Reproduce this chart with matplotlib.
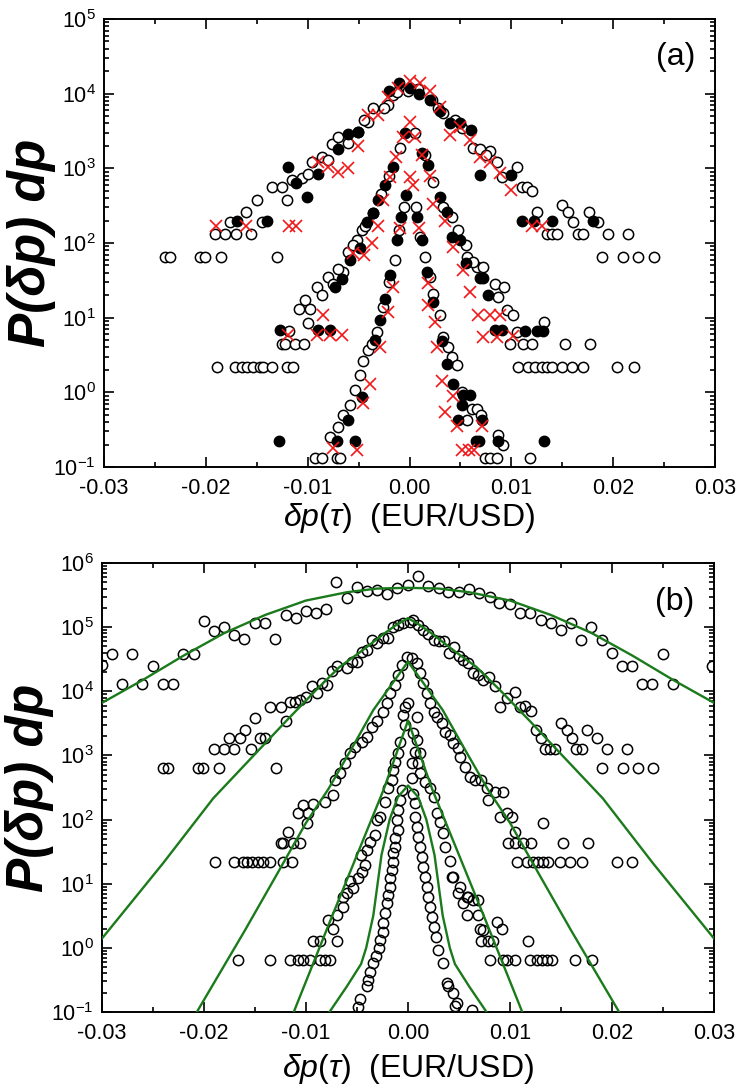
import matplotlib
matplotlib.use("Agg")
import matplotlib.pyplot as plt
from matplotlib.ticker import MultipleLocator, LogLocator, NullFormatter, FixedLocator, FixedFormatter

plt.rcParams['font.family'] = ['Liberation Sans', 'DejaVu Sans']
plt.rcParams['mathtext.fontset'] = 'custom'
plt.rcParams['mathtext.rm'] = 'Liberation Sans'
plt.rcParams['mathtext.it'] = 'Liberation Sans:italic'
plt.rcParams['mathtext.bf'] = 'Liberation Sans:bold'
plt.rcParams['axes.unicode_minus'] = False

# ---------------- Panel (a) data ----------------
a_open_x = [-0.0240, -0.0235, -0.0206, -0.0201, -0.0185, -0.0130,
            -0.0191, -0.0181, -0.0170, -0.0156, -0.0176, -0.0161, -0.0145, -0.0150, -0.0135, -0.0125,
            -0.0120, -0.0115, -0.0106, -0.0100, -0.0096, -0.0086, -0.0080, -0.0076, -0.0070, -0.0060,
            -0.0051, -0.0041, -0.0036, -0.0021, -0.0016, -0.0001, -0.0045, -0.0025, -0.0012,
            0.0008, 0.0022, 0.0033, 0.0045, 0.0062, 0.0069, 0.0079, 0.0086, 0.0091, 0.0106, 0.0110,
            0.0115, 0.0120, 0.0125, 0.0150, 0.0156, 0.0161, 0.0176, 0.0185, 0.0135, 0.0140, 0.0145,
            0.0165, 0.0170, 0.0195, 0.0215, 0.0189, 0.0210, 0.0224, 0.0240, 0.0028, 0.0052, 0.0075,
            # middle
            -0.0009, -0.0036, -0.0047, -0.0052, -0.0060, -0.0065, -0.0080, -0.0091, -0.0086, -0.0103,
            -0.0109, -0.0098, -0.0100, -0.0118, -0.0125, -0.0122, -0.0112, -0.0104,
            -0.0189, -0.0171, -0.0164, -0.0160, -0.0154, -0.0147, -0.0144, -0.0135, -0.0120, -0.0114,
            -0.0020, -0.0028, -0.0044, -0.0055, -0.0070, -0.0075,
            0.0005, 0.0023, 0.0042, 0.0055, 0.0056, 0.0066, 0.0072, 0.0084, 0.0093, 0.0087, 0.0096,
            0.0102, 0.0106, 0.0132, 0.0099, 0.0111, 0.0120, 0.0153, 0.0177,
            0.0107, 0.0116, 0.0123, 0.0130, 0.0135, 0.0140, 0.0150, 0.0160, 0.0170, 0.0204, 0.0220,
            0.0015, 0.0033, 0.0048, 0.0062,
            # inner
            -0.0005, 0.0006, -0.0014, -0.0041, -0.0046, -0.0049, -0.0054, -0.0058, -0.0065, -0.0070,
            -0.0078, -0.0093, -0.0086, -0.0071, -0.0068, -0.0010, -0.0020, -0.0026, -0.0032, -0.0037,
            0.0015, 0.0023, 0.0030, 0.0033, 0.0038, 0.0042, 0.0047, 0.0061, 0.0066, 0.0056, 0.0087,
            0.0092, 0.0074, 0.0079, 0.0086, 0.0118, 0.0010, 0.0020, 0.0052, 0.0070]
a_open_y = [65, 65, 65, 65, 65, 65,
            130, 130, 130, 130, 190, 260, 190, 380, 560, 560,
            380, 690, 750, 850, 1200, 1400, 1300, 2100, 2600, 2200,
            3100, 4200, 6500, 7000, 9600, 11000, 4500, 6500, 10500,
            11500, 8300, 5500, 4500, 1900, 1800, 1700, 1200, 760, 1050, 560,
            560, 500, 260, 320, 260, 190, 260, 190, 130, 130, 130,
            130, 130, 130, 130, 65, 65, 65, 65, 6500, 3500, 1500,
            # middle
            1900, 250, 150, 110, 76, 41, 35, 26, 20, 17,
            13, 13, 8.6, 6.6, 4.4, 4.4, 4.4, 4.4,
            2.2, 2.2, 2.2, 2.2, 2.2, 2.2, 2.2, 2.2, 2.2, 2.2,
            800, 450, 170, 95, 45, 28,
            3000, 660, 220, 93, 65, 48, 48, 28, 26, 19, 12.6,
            11, 6.5, 8.7, 4.4, 4.4, 4.4, 4.4, 4.4,
            2.2, 2.2, 2.2, 2.2, 2.2, 2.2, 2.2, 2.2, 2.2, 2.2, 2.2,
            1500, 300, 150, 55,
            # inner
            300, 300, 59, 3.7, 2.6, 1.7, 1.07, 0.68, 0.50, 0.34,
            0.25, 0.13, 0.13, 0.13, 0.13, 150, 30, 14, 6.5, 4.5,
            65, 21, 11, 5.5, 4.0, 3.0, 2.3, 0.6, 0.6, 0.43, 0.27,
            0.20, 0.13, 0.13, 0.13, 0.13, 120, 35, 1.0, 0.5]

a_fill_x = [-0.0169, -0.0140, -0.0119, -0.0111, -0.0101, -0.0090, -0.0070, -0.0060, -0.0051,
            -0.0020, -0.0010, 0.0000, 0.0009, 0.0020, 0.0030, 0.0040, 0.0050, 0.0060, 0.0069,
            0.0100, 0.0110, 0.0122, 0.0140, 0.0180,
            -0.0004, -0.0016, -0.0024, -0.0031, -0.0036, -0.0042, -0.0049, -0.0058, -0.0066, -0.0073,
            -0.0127, -0.0090, -0.0078, 0.0012, 0.0018, 0.0030, 0.0037, 0.0042, 0.0050, 0.0055,
            0.0069, 0.0072, 0.0077, 0.0084, 0.0091, 0.0113, 0.0125, 0.0131,
            -0.0003, -0.0008, 0.0007, -0.0012, 0.0012, -0.0019, -0.0024, -0.0029, -0.0034, -0.0047,
            -0.0060, -0.0071, -0.0054, -0.0128, 0.0017, 0.0023, 0.0032, 0.0037, 0.0043, 0.0053,
            0.0059, 0.0052, 0.0048, 0.0071, 0.0065, 0.0068, 0.0087, 0.0132]
a_fill_y = [200, 200, 1050, 630, 410, 840, 1800, 2900, 3100,
            11000, 14000, 12000, 10000, 8300, 5800, 4100, 4100, 3300, 810,
            810, 200, 200, 200, 200,
            3000, 1050, 600, 380, 250, 190, 85, 59, 33, 26,
            6.9, 6.9, 6.9, 1600, 1100, 410, 260, 120, 110, 54,
            34, 34, 20, 6.9, 6.9, 6.6, 6.6, 6.6,
            440, 220, 220, 110, 110, 37, 18, 9.4, 5.0, 0.87,
            0.43, 0.22, 0.22, 0.22, 41, 16, 4.8, 2.4, 1.3, 0.93,
            0.93, 0.68, 0.43, 0.43, 0.22, 0.22, 0.22, 0.22]

a_cross_x = [-0.0190, -0.0161, -0.0118, -0.0111, -0.0090, -0.0080, -0.0070, -0.0060, -0.0051,
             -0.0041, -0.0031, -0.0021, -0.0011, 0.0000, 0.0010, 0.0020, 0.0030, 0.0040, 0.0050,
             0.0059, 0.0069, 0.0079, 0.0089, 0.0100, 0.0120, 0.0130,
             0.0000, -0.0006, -0.0013, -0.0019, -0.0026, -0.0031, -0.0037, -0.0045, -0.0055, -0.0085,
             -0.0091, -0.0078, -0.0066, -0.0119, 0.0005, 0.0012, 0.0020, 0.0023, 0.0035, 0.0043,
             0.0053, 0.0059, 0.0067, 0.0079, 0.0089, 0.0072, 0.0086, 0.0102,
             0.0000, 0.0003, -0.0009, 0.0009, -0.0016, -0.0021, -0.0029, -0.0039, -0.0046, -0.0075,
             -0.0052, 0.0018, 0.0018, 0.0025, 0.0027, 0.0032, 0.0043, 0.0035, 0.0047, 0.0071,
             0.0052, 0.0058, 0.0063]
a_cross_y = [170, 170, 170, 170, 1200, 1050, 900, 1000, 2000,
             5200, 5200, 9100, 12000, 15000, 14000, 11000, 6600, 2800, 3600,
             2400, 1400, 1200, 870, 520, 170, 170,
             4200, 2600, 1400, 760, 380, 170, 100, 70, 74, 11,
             5.9, 5.9, 5.9, 5.9, 2600, 1500, 800, 330, 200, 89,
             44, 22, 11, 11, 11, 5.5, 5.5, 5.6,
             760, 600, 160, 160, 26, 12, 4.1, 1.3, 0.72, 0.18,
             0.17, 29, 15, 8.7, 4.1, 1.4, 0.9, 0.54, 0.35, 0.35,
             0.17, 0.17, 0.17]

# ---------------- Panel (b) data ----------------
b1_x = [-0.0300, -0.0290, -0.0280, -0.0271, -0.0261, -0.0250, -0.0240, -0.0230, -0.0221, -0.0210,
        -0.0200, -0.0190, -0.0180, -0.0171, -0.0161, -0.0150, -0.0140, -0.0130, -0.0120, -0.0110,
        -0.0100, -0.0090, -0.0080, -0.0071, -0.0060, -0.0050, -0.0040, -0.0030, -0.0021, -0.0011,
        0.0000, 0.0010, 0.0020, 0.0030, 0.0039, 0.0050, 0.0060, 0.0070, 0.0080, 0.0089,
        0.0100, 0.0110, 0.0120, 0.0130, 0.0140, 0.0150, 0.0160, 0.0170, 0.0179, 0.0190,
        0.0200, 0.0210, 0.0220, 0.0229, 0.0239, 0.0250, 0.0260, 0.0298]
b1_y = [2.6e4, 3.8e4, 1.3e4, 3.8e4, 1.3e4, 2.5e4, 1.3e4, 1.3e4, 3.8e4, 3.8e4,
        1.25e5, 8.7e4, 1.0e5, 7.6e4, 6.5e4, 1.15e5, 1.15e5, 6.5e4, 1.55e5, 1.4e5,
        1.8e5, 1.65e5, 1.9e5, 5.0e5, 2.8e5, 4.2e5, 3.7e5, 3.8e5, 3.3e5, 4.1e5,
        4.5e5, 6.3e5, 4.4e5, 4.1e5, 3.5e5, 3.5e5, 3.9e5, 3.4e5, 2.9e5, 2.4e5,
        2.3e5, 1.65e5, 1.65e5, 1.3e5, 1.15e5, 8.9e4, 1.15e5, 6.3e4, 1.0e5, 6.3e4,
        4.0e4, 2.5e4, 2.5e4, 1.3e4, 1.3e4, 3.8e4, 1.3e4, 2.5e4]

b2_x = [-0.0240, -0.0235, -0.0206, -0.0201, -0.0185, -0.0129,
        -0.0190, -0.0180, -0.0171, -0.0175, -0.0165, -0.0160, -0.0154, -0.0145, -0.0140, -0.0150,
        -0.0135, -0.0125, -0.0120, -0.0116, -0.0111, -0.0106, -0.0100, -0.0094, -0.0089, -0.0084,
        -0.0079, -0.0075, -0.0070, -0.0060, -0.0055, -0.0050, -0.0045, -0.0040, -0.0035, -0.0030,
        -0.0025, -0.0020, -0.0015, -0.0010, -0.0005, 0.0002,
        0.0005, 0.0010, 0.0015, 0.0020, 0.0025, 0.0030, 0.0035, 0.0040, 0.0045, 0.0050, 0.0054,
        0.0059, 0.0064, 0.0069, 0.0074, 0.0079, 0.0085, 0.0090, 0.0097, 0.0105, 0.0110, 0.0115,
        0.0121, 0.0125, 0.0130, 0.0134, 0.0139, 0.0144, 0.0150, 0.0156, 0.0161, 0.0165, 0.0171,
        0.0175, 0.0185, 0.0195, 0.0215, 0.0190, 0.0211, 0.0225, 0.0240]
b2_y = [630, 630, 630, 630, 630, 630,
        1250, 1250, 1250, 1850, 1850, 2500, 1250, 1850, 1850, 3800,
        5600, 5600, 3500, 6800, 6800, 7200, 8100, 12000, 9300, 13500,
        12500, 21000, 25000, 23000, 29000, 29000, 41000, 44000, 63000, 56000,
        67000, 67000, 100000, 107000, 115000, 120000,
        130000, 107000, 89000, 79000, 63000, 60000, 60000, 40000, 49000, 36000, 31000,
        27500, 19000, 18000, 15000, 16500, 12000, 5600, 7800, 9800, 5600, 6000,
        5000, 2500, 1850, 1250, 1250, 1250, 3200, 2500, 1850, 1250, 1250,
        2500, 1850, 1250, 1250, 630, 630, 630, 630]

b3_x = [-0.0001, -0.0006, -0.0010, -0.0013, -0.0018, -0.0021, -0.0025, -0.0030, -0.0035, -0.0040,
        -0.0045, -0.0052, -0.0057, -0.0062, -0.0067, -0.0072, -0.0074, -0.0081, -0.0093, -0.0103,
        -0.0108, -0.0098, -0.0099, -0.0118, -0.0125, -0.0123, -0.0113, -0.0106,
        -0.0189, -0.0171, -0.0162, -0.0158, -0.0153, -0.0147, -0.0142, -0.0135, -0.0123, -0.0114,
        0.0004, 0.0009, 0.0012, 0.0015, 0.0019, 0.0022, 0.0025, 0.0028, 0.0033, 0.0036,
        0.0041, 0.0044, 0.0049, 0.0051, 0.0056, 0.0061, 0.0066, 0.0072, 0.0077, 0.0085,
        0.0093, 0.0078, 0.0090, 0.0097, 0.0102, 0.0105, 0.0098, 0.0105, 0.0113, 0.0121,
        0.0132, 0.0152, 0.0176,
        0.0107, 0.0117, 0.0123, 0.0127, 0.0132, 0.0137, 0.0149, 0.0159, 0.0171, 0.0205, 0.0220]
b3_y = [34000, 26000, 17800, 12600, 9300, 6600, 4800, 3500, 2750, 1950,
        1620, 1350, 1100, 760, 525, 410, 240, 186, 178, 166,
        126, 126, 87, 63, 43, 43, 43, 43,
        22, 22, 22, 22, 22, 22, 22, 22, 22, 22,
        33000, 27500, 19000, 13500, 9300, 6600, 4800, 4000, 3200, 2300,
        2100, 1550, 1290, 930, 660, 457, 407, 407, 316, 270,
        270, 200, 110, 126, 110, 63, 43, 43, 43, 43,
        87, 43, 43,
        22, 22, 22, 22, 22, 22, 22, 22, 22, 22, 22]

b4_x = [0.0000, -0.0003, -0.0005, -0.0003, -0.0008, -0.0010, -0.0013, -0.0015, -0.0016, -0.0020,
        -0.0023, -0.0027, -0.0030, -0.0032, -0.0037, -0.0040, -0.0046, -0.0042, -0.0045, -0.0049,
        -0.0057, -0.0054, -0.0060, -0.0064, -0.0064, -0.0070, -0.0078, -0.0074, -0.0093, -0.0086,
        -0.0070,
        -0.0167, -0.0135, -0.0116, -0.0108, -0.0103, -0.0096, -0.0086, -0.0081, -0.0076,
        0.0005, 0.0009, 0.0009, 0.0007, 0.0012, 0.0010, 0.0012, 0.0017, 0.0004, 0.0004,
        0.0022, 0.0025, 0.0028, 0.0031, 0.0034, 0.0036, 0.0041, 0.0044, 0.0043, 0.0049,
        0.0051, 0.0054, 0.0058, 0.0059, 0.0064, 0.0069, 0.0058, 0.0069, 0.0071, 0.0074,
        0.0072, 0.0078, 0.0083, 0.0087, 0.0092, 0.0118,
        0.0080, 0.0093, 0.0097, 0.0105, 0.0120, 0.0126, 0.0131, 0.0136, 0.0141, 0.0164, 0.0180]
b4_y = [6600, 5600, 4300, 3000, 1620, 1100, 800, 590, 410, 316,
        186, 110, 98, 58, 45, 33, 28, 19.5, 15, 12.3,
        11.2, 8.5, 7.1, 6.2, 4.3, 3.2, 2.7, 2.0, 1.3, 1.3,
        1.3,
        0.65, 0.65, 0.65, 0.65, 0.65, 0.65, 0.65, 0.65, 0.65,
        2240, 4000, 1740, 1120, 1100, 760, 525, 380, 760, 450,
        316, 224, 126, 91, 62, 37, 23, 12.6, 12.6, 7.1,
        8.9, 5.0, 6.2, 6.2, 5.5, 5.5, 3.2, 3.2, 2.0, 1.9,
        1.26, 1.26, 1.26, 2.5, 2.0, 1.26,
        0.65, 0.65, 0.65, 0.65, 0.65, 0.65, 0.65, 0.65, 0.65, 0.65, 0.65]

b5_x = [-0.0006, -0.0008, -0.0010, -0.0011, -0.0010, -0.0013, -0.0013, -0.0015, -0.0015, -0.0016,
        -0.0018, -0.0018, -0.0020, -0.0021, -0.0023, -0.0025, -0.0025, -0.0027, -0.0028, -0.0031,
        -0.0034, -0.0037, -0.0039, -0.0040, -0.0047, -0.0049,
        0.0005, 0.0007, 0.0007, 0.0009, 0.0010, 0.0012, 0.0014, 0.0015, 0.0017, 0.0019,
        0.0020, 0.0022, 0.0024, 0.0025, 0.0027, 0.0029, 0.0034, 0.0038, 0.0039, 0.0044,
        0.0046, 0.0048, 0.0063]
b5_y = [288, 200, 141, 98, 68, 51, 37, 30, 22, 16.2,
        12.3, 8.9, 6.6, 5.0, 3.5, 2.4, 1.74, 1.32, 1.0, 0.76,
        0.58, 0.42, 0.31, 0.25, 0.16, 0.12,
        251, 182, 110, 76, 54, 37, 26, 18, 12.6, 8.9,
        6.2, 4.3, 3.0, 2.1, 1.48, 0.91, 0.58, 0.28, 0.25, 0.195,
        0.126, 0.138, 0.107]

# fitted curves (green)
fit1_x = [-0.030, -0.026, -0.022, -0.018, -0.014, -0.010, -0.006, -0.003, 0.0,
          0.003, 0.006, 0.010, 0.014, 0.018, 0.022, 0.026, 0.030]
fit1_y = [6.6e3, 1.5e4, 3.6e4, 8.1e4, 1.55e5, 2.6e5, 3.5e5, 4.0e5, 4.1e5,
          4.0e5, 3.5e5, 2.6e5, 1.55e5, 8.1e4, 3.6e4, 1.5e4, 6.6e3]
fit2_x = [-0.030, -0.024, -0.0191, -0.015, -0.0119, -0.009, -0.0067, -0.0045, -0.0025, -0.0012, 0.0,
          0.0012, 0.0025, 0.0045, 0.0067, 0.009, 0.0119, 0.015, 0.0191, 0.024, 0.030]
fit2_y = [1.4, 21, 214, 1.05e3, 3.5e3, 1.05e4, 2.4e4, 4.3e4, 7.6e4, 1.07e5, 1.38e5,
          1.07e5, 7.6e4, 4.3e4, 2.4e4, 1.05e4, 3.5e3, 1.05e3, 214, 21, 1.4]
fit3_x = [-0.0210, -0.016, -0.0128, -0.010, -0.0078, -0.0055, -0.0034, -0.0015, 0.0,
          0.0015, 0.0034, 0.0055, 0.0078, 0.010, 0.0128, 0.016, 0.0210]
fit3_y = [0.083, 1.86, 14.5, 89, 300, 1.3e3, 5.1e3, 1.35e4, 2.9e4,
          1.35e4, 5.1e3, 1.3e3, 300, 89, 14.5, 1.86, 0.083]
fit4_x = [-0.0116, -0.0112, -0.0076, -0.0050, -0.0024, -0.0012, 0.0,
          0.0012, 0.0024, 0.0050, 0.0076, 0.0112, 0.0116]
fit4_y = [0.07, 0.1, 2.7, 28, 290, 1.0e3, 3.5e3,
          1.0e3, 290, 28, 2.7, 0.1, 0.07]
fit5_x = [-0.0080, -0.0060, -0.0046, -0.0041, -0.0034, -0.0026, -0.0018, -0.0010, 0.0,
          0.0010, 0.0018, 0.0026, 0.0034, 0.0041, 0.0046, 0.0060, 0.0080]
fit5_y = [0.085, 0.25, 0.56, 1.0, 3.2, 28, 100, 224, 340,
          224, 100, 28, 3.2, 1.0, 0.56, 0.25, 0.085]

x_ticks = [-0.03, -0.02, -0.01, 0.0, 0.01, 0.02, 0.03]
x_tick_labels = ["-0.03", "-0.02", "-0.01", "0.00", "0.01", "0.02", "0.03"]

# ---------------- figure ----------------
fig = plt.figure(figsize=(7.43, 10.90), dpi=100)
axA = fig.add_axes([104/743, 1-467/1090, (715-104)/743, (467-19)/1090])
axB = fig.add_axes([102/743, 1-1012/1090, (714-102)/743, (1012-563)/1090])

ms = 7.4
mew = 1.1
axA.plot(a_open_x, a_open_y, 'o', ms=ms, mfc='white', mec='black', mew=mew, ls='none', zorder=3)
axA.plot(a_fill_x, a_fill_y, 'o', ms=ms, mfc='black', mec='black', mew=mew, ls='none', zorder=4)
axA.plot(a_cross_x, a_cross_y, 'x', ms=8.5, color='#f01818', mew=1.2, ls='none', zorder=5)

green = '#1b7a1b'
for fx, fy in [(fit1_x, fit1_y), (fit2_x, fit2_y), (fit3_x, fit3_y), (fit4_x, fit4_y), (fit5_x, fit5_y)]:
    axB.plot(fx, fy, '-', color=green, lw=1.7, zorder=4)
for bx, by in [(b1_x, b1_y), (b2_x, b2_y), (b3_x, b3_y), (b4_x, b4_y), (b5_x, b5_y)]:
    axB.plot(bx, by, 'o', ms=ms, mfc='none', mec='black', mew=mew, ls='none', zorder=3)

for ax, ylim, xpad in [(axA, (1e-1, 1e5), 1.5), (axB, (1e-1, 1e6), 6)]:
    ax.set_yscale('log')
    ax.set_xlim(-0.03, 0.03)
    ax.set_ylim(*ylim)
    ax.xaxis.set_major_locator(FixedLocator(x_ticks))
    ax.xaxis.set_major_formatter(FixedFormatter(x_tick_labels))
    ax.xaxis.set_minor_locator(MultipleLocator(0.005))
    ax.yaxis.set_major_locator(LogLocator(base=10, numticks=20))
    ax.yaxis.set_minor_locator(LogLocator(base=10, subs=range(2, 10), numticks=20))
    ax.yaxis.set_minor_formatter(NullFormatter())
    ax.tick_params(which='both', direction='in', top=True, right=True, width=1.2)
    ax.tick_params(which='major', length=7, labelsize=15.5)
    ax.tick_params(axis='x', which='major', pad=8)
    ax.tick_params(axis='y', which='major', pad=6)
    ax.tick_params(which='minor', length=3.5)
    for s in ax.spines.values():
        s.set_linewidth(1.4)
    ax.set_xlabel(r'$\delta p(\tau)$  (EUR/USD)', fontsize=23, labelpad=xpad)
    ax.set_ylabel('P(δp) dp', fontsize=37, fontweight='bold', fontstyle='italic', labelpad=-2)

axA.text(0.968, 0.915, '(a)', transform=axA.transAxes, ha='right', va='center', fontsize=23)
axB.text(0.968, 0.913, '(b)', transform=axB.transAxes, ha='right', va='center', fontsize=23)

fig.savefig('out.png', dpi=100)
